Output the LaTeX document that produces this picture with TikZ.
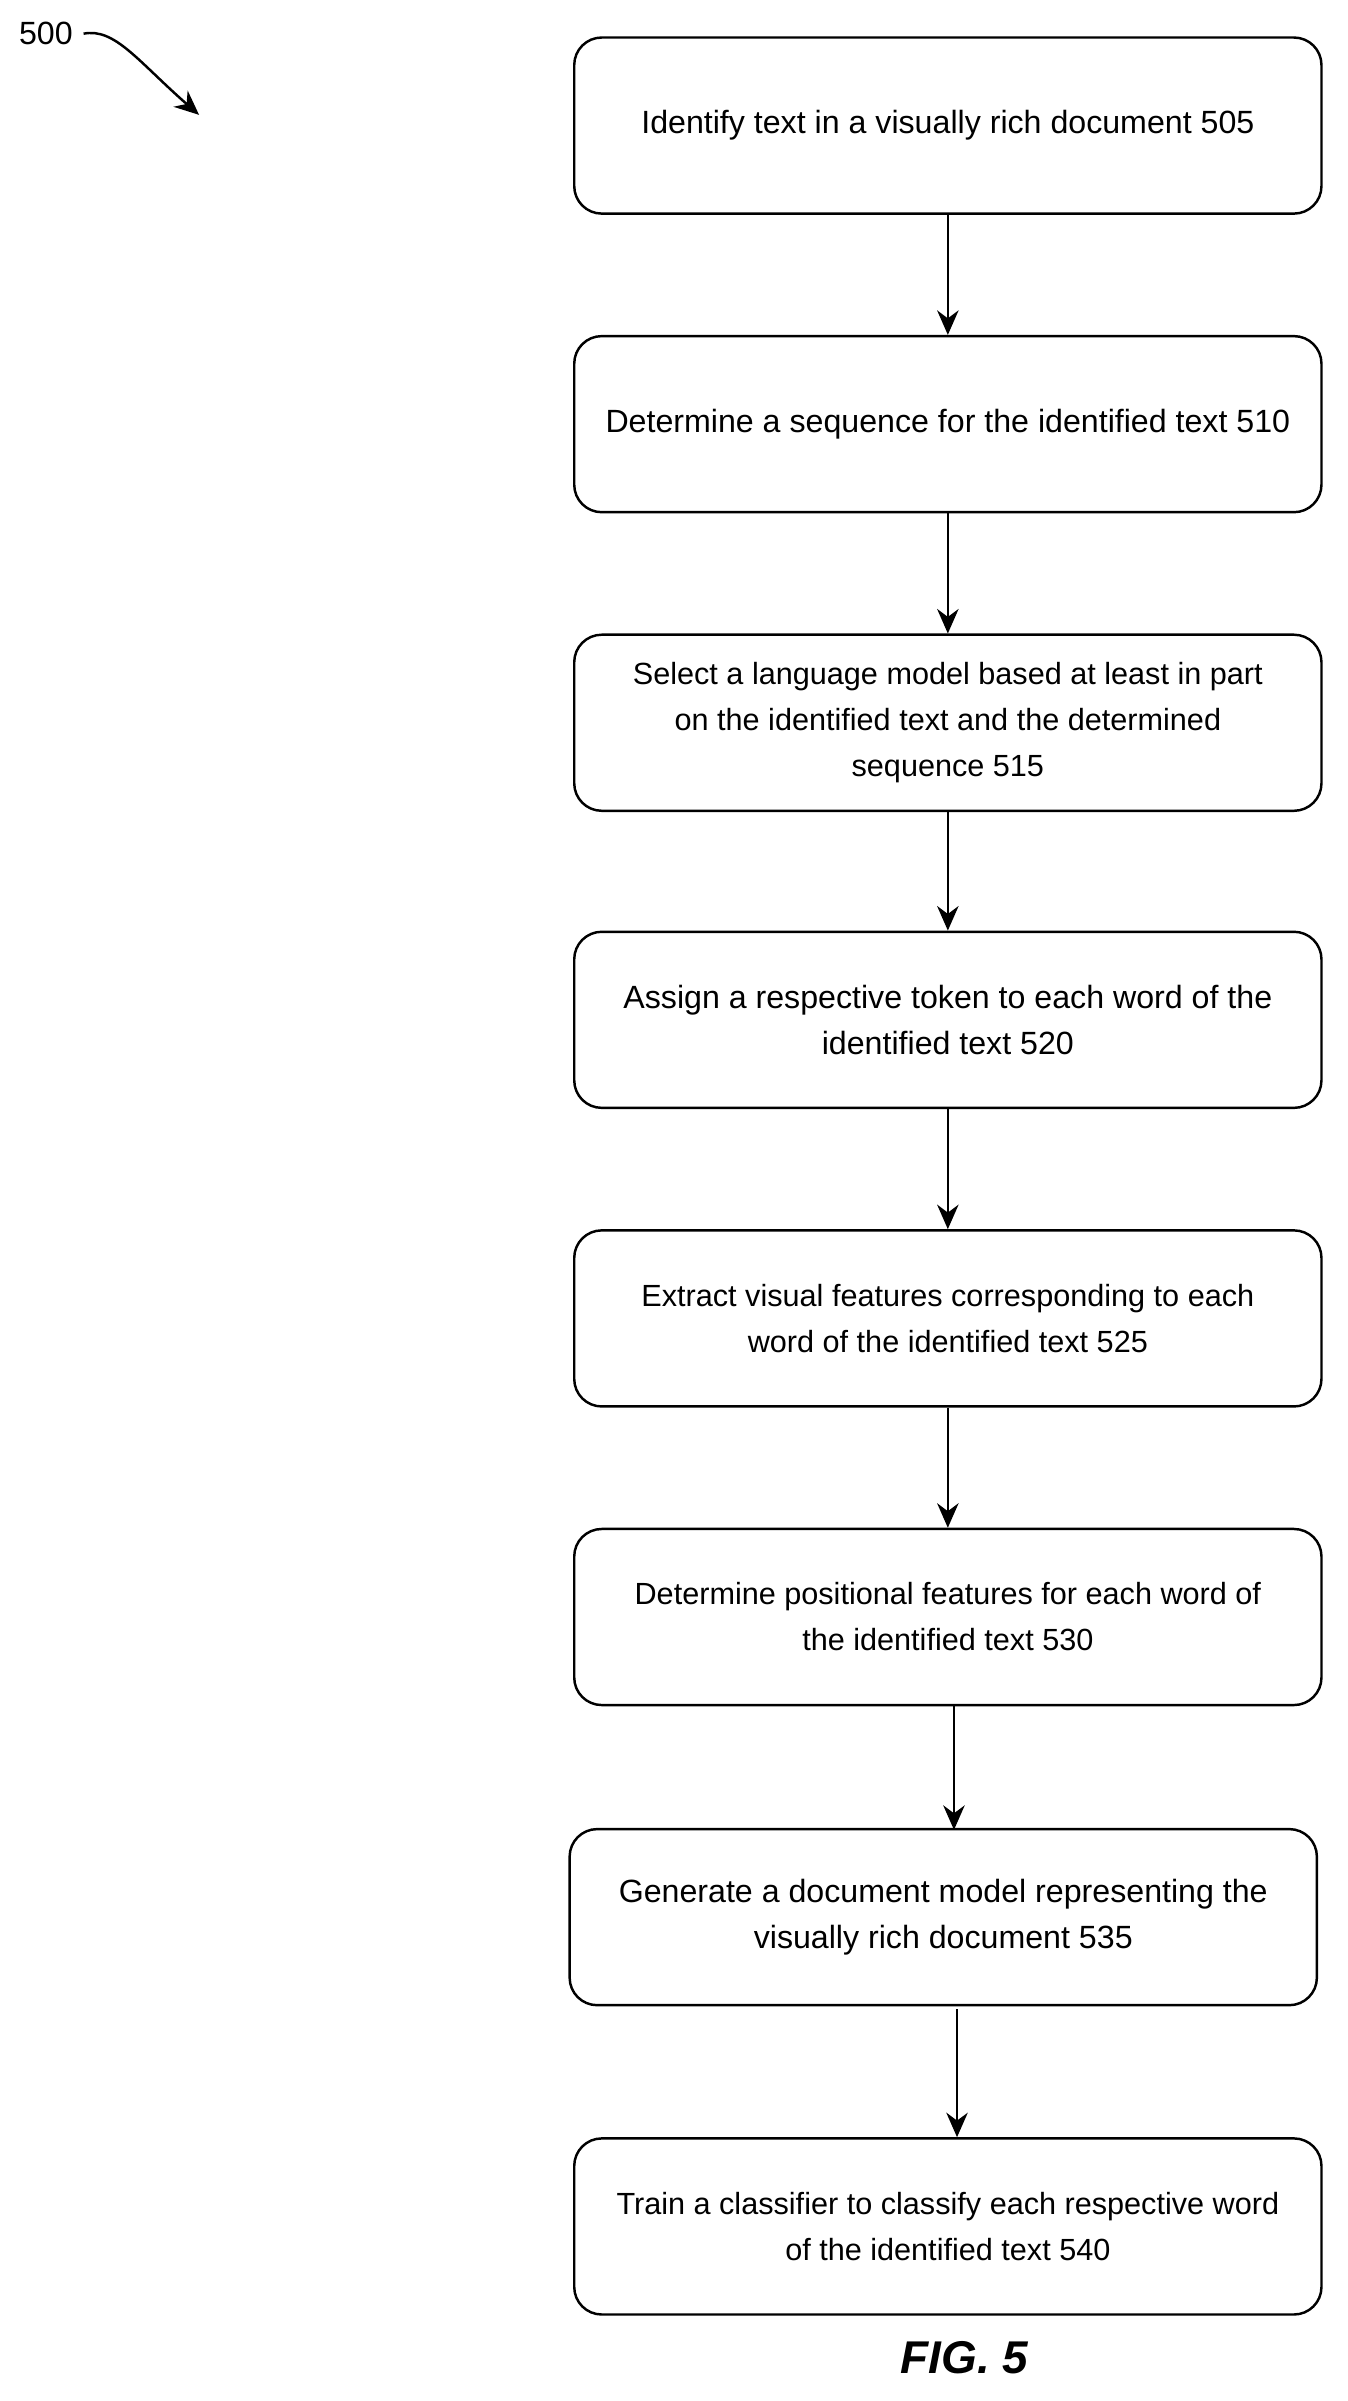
\documentclass[tikz,border=0pt]{standalone}
\usepackage{fontspec}
\setmainfont{Liberation Sans}
\usetikzlibrary{arrows.meta}
\tikzstyle{stage}=[draw=black, thick, rounded corners=9pt, minimum width=244pt, minimum height=57.5pt, align=center, font=\fontsize{10.5}{15}\selectfont]
\tikzstyle{flow}=[-{Stealth[length=8pt,width=7pt]}, thick]
\begin{document}
\begin{tikzpicture}[x=0.5pt,y=-0.5pt]
    \useasboundingbox (0,0) rectangle (880,1568);
    \node [style=stage] (s505) at (619,82) {Identify text in a visually rich document 505};
    \node [style=stage] (s510) at (619,277) {Determine a sequence for the identified text 510};
    \node [style=stage] (s515) at (619,472) {\fontsize{10}{15}\selectfont Select a language model based at least in part\\\fontsize{10}{15}\selectfont on the identified text and the determined\\\fontsize{10}{15}\selectfont sequence 515};
    \node [style=stage] (s520) at (619,666) {Assign a respective token to each word of the\\identified text 520};
    \node [style=stage] (s525) at (619,861) {\fontsize{10}{15}\selectfont Extract visual features corresponding to each\\\fontsize{10}{15}\selectfont word of the identified text 525};
    \node [style=stage] (s530) at (619,1056) {\fontsize{10}{15}\selectfont Determine positional features for each word of\\\fontsize{10}{15}\selectfont the identified text 530};
    \node [style=stage] (s535) at (616,1252) {Generate a document model representing the\\visually rich document 535};
    \node [style=stage] (s540) at (619,1454) {\fontsize{10}{15}\selectfont Train a classifier to classify each respective word\\\fontsize{10}{15}\selectfont of the identified text 540};
    \draw [style=flow] (s505) to (s510);
    \draw [style=flow] (s510) to (s515);
    \draw [style=flow] (s515) to (s520);
    \draw [style=flow] (s520) to (s525);
    \draw [style=flow] (s525) to (s530);
    \draw [style=flow] (s530.south -| 623,0) to (623,1195);
    \draw [style=flow] (625,1312) to (s540.north -| 625,0);
    \node [font=\fontsize{10.5}{12}\selectfont] (ref) at (30,22) {500};
    \coordinate (tip) at (130,75);
    \draw [style=flow] (ref.east) .. controls (75,18) and (90,40) .. (tip);
    \node [font=\bfseries\itshape\fontsize{15}{18}\selectfont] (fig) at (630,1540) {FIG. 5};
\end{tikzpicture}
\end{document}
